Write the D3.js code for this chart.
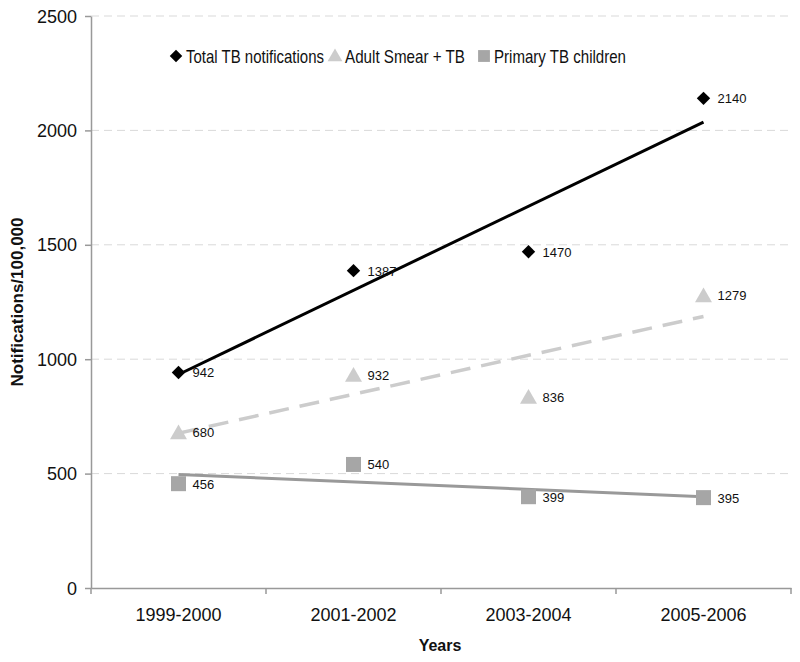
<!DOCTYPE html>
<html><head><meta charset="utf-8">
<script src="https://cdn.jsdelivr.net/npm/d3@7"></script>
<style>body{margin:0;background:#fff}svg text{font-family:Arial,"Liberation Sans",sans-serif}</style>
</head><body><svg id="c" width="800" height="662"></svg>
<script>
const categories = ["1999-2000","2001-2002","2003-2004","2005-2006"];
const totalTB = [942,1387,1470,2140];
const adultSmear = [680,932,836,1279];
const primaryChildren = [456,540,399,395];
const yTicks = [0,500,1000,1500,2000,2500];
const seriesNames = ["Total TB notifications","Adult Smear + TB","Primary TB children"];

const svg = d3.select("#c");
const L=91,R=791,T=16,B=588;
const x = d3.scaleBand().domain(categories).range([L,R]);
const y = d3.scaleLinear().domain([0,2500]).range([B,T]);
const cx = c => x(c)+x.bandwidth()/2;

// gridlines
svg.append("g").selectAll("line").data(yTicks.filter(d=>d>0)).join("line")
  .attr("x1",L).attr("x2",R).attr("y1",d=>y(d)).attr("y2",d=>y(d))
  .attr("stroke","#d9d9d9").attr("stroke-dasharray","8,5").attr("stroke-width",1);

// axes
const ya = svg.append("g").attr("transform",`translate(${L},0)`)
  .call(d3.axisLeft(y).tickValues(yTicks).tickFormat(d3.format("d")).tickSize(6).tickSizeOuter(0).tickPadding(8));
ya.select(".domain").attr("stroke","#999").attr("stroke-width",1.5);
ya.selectAll(".tick line").attr("stroke","#999").attr("stroke-width",1.5);
ya.selectAll("text").attr("font-size",18).attr("fill","#111").attr("dy","0.34em");

const xa = svg.append("g").attr("transform",`translate(0,${B})`)
  .call(d3.axisBottom(x).tickSize(0).tickPadding(20));
xa.select(".domain").attr("stroke","#999").attr("stroke-width",1.5);
xa.selectAll("text").attr("font-size",18).attr("fill","#111");
// tick marks at category boundaries
const bounds = categories.map(c=>x(c)).concat([R]);
svg.append("g").selectAll("line").data(bounds).join("line")
  .attr("x1",d=>d).attr("x2",d=>d).attr("y1",B).attr("y2",B+6)
  .attr("stroke","#999").attr("stroke-width",1.5);

// axis titles
svg.append("text").attr("x",440).attr("y",651).attr("text-anchor","middle")
  .attr("font-size",16).attr("font-weight","bold").attr("fill","#111").text("Years");
svg.append("text").attr("transform","translate(23,302) rotate(-90)").attr("text-anchor","middle")
  .attr("font-size",16).attr("font-weight","bold").attr("fill","#111")
  .attr("textLength",169).attr("lengthAdjust","spacingAndGlyphs").text("Notifications/100,000");

// trendlines (least squares)
function trend(vals){
  const n=vals.length, xs=vals.map((_,i)=>i+1);
  const mx=d3.mean(xs), my=d3.mean(vals);
  const s=d3.sum(xs.map((xi,i)=>(xi-mx)*(vals[i]-my)))/d3.sum(xs.map(xi=>(xi-mx)**2));
  return [[categories[0], my+s*(1-mx)],[categories[n-1], my+s*(n-mx)]];
}
const line = d3.line().x(d=>cx(d[0])).y(d=>y(d[1]));
svg.append("path").attr("d",line(trend(primaryChildren))).attr("fill","none").attr("stroke","#999").attr("stroke-width",3);
svg.append("path").attr("d",line(trend(adultSmear))).attr("fill","none").attr("stroke","#ccc").attr("stroke-width",3.5).attr("stroke-dasharray","20,11");
svg.append("path").attr("d",line(trend(totalTB))).attr("fill","none").attr("stroke","#000").attr("stroke-width",3);

// markers
const sym = {
  diamond: d3.symbol().type(d3.symbolDiamond2).size(115),
  triangle: d3.symbol().type(d3.symbolTriangle).size(125),
  square: d3.symbol().type(d3.symbolSquare).size(225)
};
const series = [
  {vals:primaryChildren, s:"square", fill:"#a6a6a6", dy:0},
  {vals:adultSmear, s:"triangle", fill:"#cccccc", dy:2},
  {vals:totalTB, s:"diamond", fill:"#000", dy:0}
];
series.forEach(se=>{
  const g=svg.append("g");
  g.selectAll("path").data(se.vals).join("path")
    .attr("transform",(d,i)=>`translate(${cx(categories[i])},${y(d)+se.dy})`)
    .attr("d",sym[se.s]()).attr("fill",se.fill);
  g.selectAll("text").data(se.vals).join("text")
    .attr("x",(d,i)=>cx(categories[i])+14).attr("y",d=>y(d)+5)
    .attr("font-size",13).attr("fill","#111").text(d=>d);
});

// legend
const leg = [
  {name:seriesNames[0], s:d3.symbolDiamond2, fill:"#000", x:176, len:138, sz:100, yy:56},
  {name:seriesNames[1], s:d3.symbolTriangle, fill:"#ccc", x:335, len:120, sz:95, yy:57},
  {name:seriesNames[2], s:d3.symbolSquare, fill:"#a6a6a6", x:484, len:132, sz:140, yy:56}
];
const lg = svg.append("g");
leg.forEach(l=>{
  lg.append("path").attr("transform",`translate(${l.x},${l.yy})`)
    .attr("d",d3.symbol().type(l.s).size(l.sz)()).attr("fill",l.fill);
  lg.append("text").attr("x",l.x+10).attr("y",62.5).attr("font-size",18.5).attr("fill","#111")
    .attr("textLength",l.len).attr("lengthAdjust","spacingAndGlyphs").text(l.name);
});
</script></body></html>
